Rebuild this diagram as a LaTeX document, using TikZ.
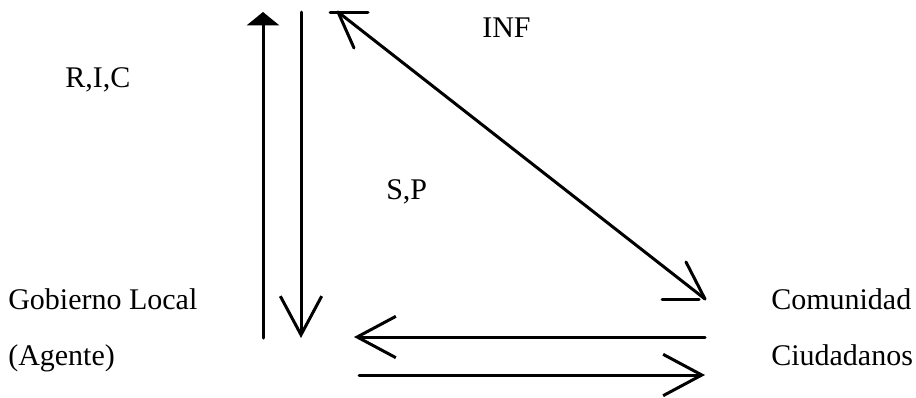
\documentclass[tikz,border=0pt]{standalone}
\usepackage{fontspec}
\setmainfont{Liberation Serif}
\usetikzlibrary{arrows.meta, positioning}

\begin{document}
\begin{tikzpicture}[
  x=0.75pt, y=-0.75pt,
  font=\fontsize{22.5}{27}\selectfont,
  lbl/.style={inner sep=0pt, anchor=base west},
  link/.style={line width=2.25pt, line cap=round},
  vtip/.style={-{Straight Barb[length=29pt, width=31pt]}},
  filltip/.style={-{Triangle[length=10pt, width=24pt]}},
]
\useasboundingbox (0,0) rectangle (916,397);

% === Labels ===
\node[lbl] (gob)   at (8,309)   {Gobierno Local};
\node[lbl] (agt)   at (8,365)   {(Agente)};
\node[lbl] (com)   at (771,309) {Comunidad};
\node[lbl] (ciud)  at (771,365) {Ciudadanos};
\node[lbl] (ric)   at (65,87)   {R,I,C};
\node[lbl] (inf)   at (482,37)  {INF};
\node[lbl] (sp)    at (386,199) {S,P};

% === End points ===
\coordinate (upA) at (263,338);  \coordinate (upB) at (263,12);
\coordinate (dnA) at (301,12);   \coordinate (dnB) at (301,338);
\coordinate (dgA) at (338,12);   \coordinate (dgB) at (705,299);
\coordinate (lfA) at (705,337);  \coordinate (lfB) at (354,337);
\coordinate (rtA) at (359,375);  \coordinate (rtB) at (705,375);

% === Vertical arrows ===
\draw[link, filltip] (upA) -- (upB);
\draw[link, vtip] (dnA) -- (dnB);

% === Diagonal ===
\draw[link] (dgA) -- (dgB);
\draw[link] (dgA) -- ++(16,36);
\draw[link] (dgA) ++(-8,0) -- ++(38,0);
\draw[link] (dgB) -- ++(-19,-37);
\draw[link] (dgB) ++(-43,0) -- ++(37,0);

% === Horizontal arrows ===
\draw[link, vtip] (lfA) -- (lfB);
\draw[link, vtip] (rtA) -- (rtB);

\end{tikzpicture}
\end{document}
